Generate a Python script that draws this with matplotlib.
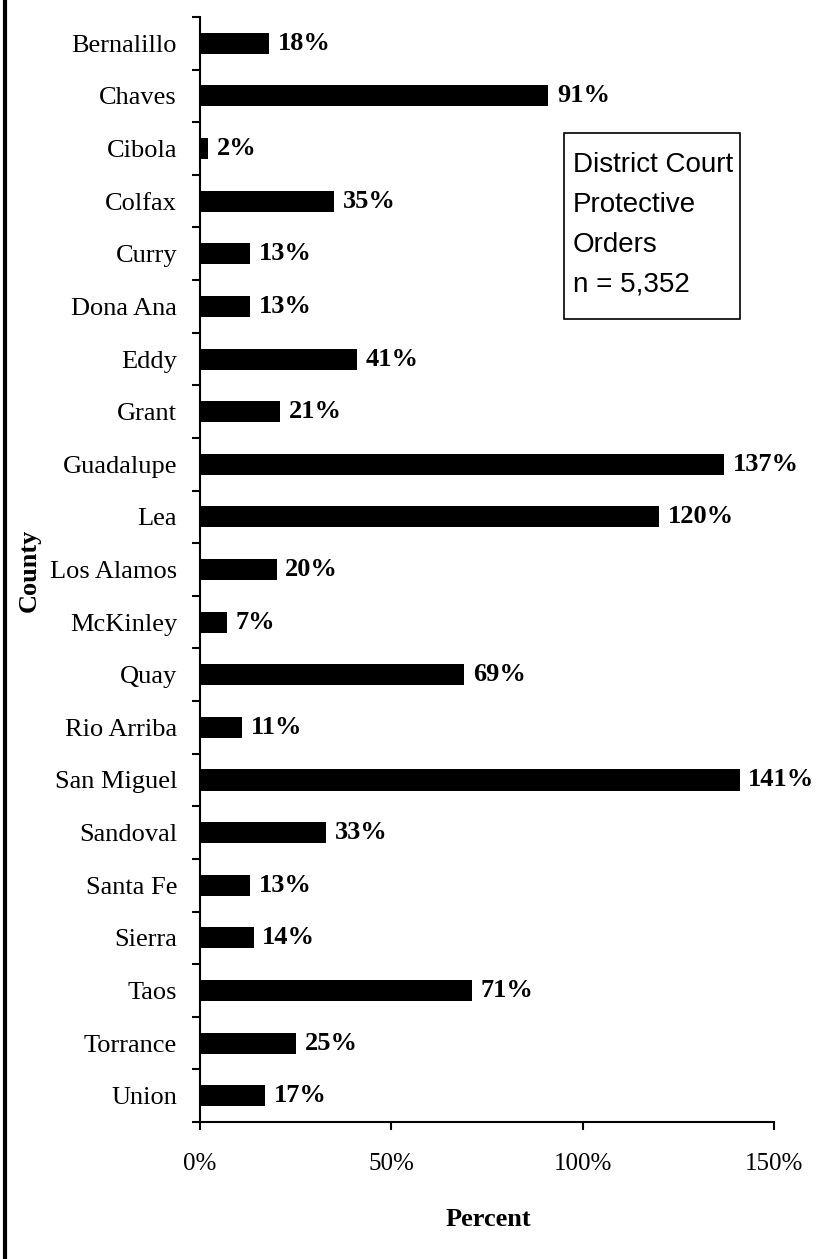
import matplotlib.pyplot as plt
from matplotlib.lines import Line2D
from matplotlib.patches import Rectangle

counties = ["Bernalillo", "Chaves", "Cibola", "Colfax", "Curry", "Dona Ana",
            "Eddy", "Grant", "Guadalupe", "Lea", "Los Alamos", "McKinley",
            "Quay", "Rio Arriba", "San Miguel", "Sandoval", "Santa Fe",
            "Sierra", "Taos", "Torrance", "Union"]
percents = [18, 91, 2, 35, 13, 13, 41, 21, 137, 120, 20, 7, 69, 11, 141,
            33, 13, 14, 71, 25, 17]
x_ticks = [0, 50, 100, 150]
x_tick_labels = ["0%", "50%", "100%", "150%"]
box_lines = ["District Court", "Protective", "Orders", "n = 5,352"]

W, H = 817, 1259
serif = "Liberation Serif"
sans = "Liberation Sans"


def main():
    fig = plt.figure(figsize=(W / 100, H / 100), dpi=100)
    ax = fig.add_axes([200 / W, 1 - 1122 / H, 574 / W, 1105 / H])

    ypos = list(range(len(counties)))
    ax.barh(ypos, percents, height=0.4, color="black")
    for y, v in zip(ypos, percents):
        ax.text(v + 2.3, y, f"{v}%", va="center", ha="left",
                fontsize=19, fontweight="bold", family=serif)

    ax.set_xlim(0, 150)
    ax.set_ylim(len(counties) - 0.5, -0.5)

    ax.set_yticks(ypos, counties, fontsize=19, family=serif)
    ax.set_yticks([i - 0.5 for i in range(len(counties) + 1)], minor=True)
    ax.tick_params(axis="y", which="major", length=0, pad=16.5)
    ax.tick_params(axis="y", which="minor", length=6, width=1.5, direction="out")

    ax.set_xticks(x_ticks, x_tick_labels, fontsize=18, family=serif)
    ax.tick_params(axis="x", length=6, width=1.5, direction="out", pad=16.5)

    for side in ["top", "right"]:
        ax.spines[side].set_visible(False)
    for side in ["left", "bottom"]:
        ax.spines[side].set_linewidth(1.5)

    fig.text(29 / W, 1 - 570 / H, "County", rotation=90, ha="center",
             va="center", fontsize=19, fontweight="bold", family=serif)
    fig.text(488 / W, 1 - 1220 / H, "Percent", ha="center", va="center",
             fontsize=19, fontweight="bold", family=serif)

    # text box
    fig.add_artist(Rectangle((564 / W, 1 - 319 / H), 176 / W, 186 / H,
                             transform=fig.transFigure, fill=False,
                             edgecolor="black", linewidth=1.2))
    for i, line in enumerate(box_lines):
        fig.text(573 / W, 1 - (165 + 40 * i) / H, line, ha="left",
                 va="center", fontsize=20, family=sans)

    # left border line
    fig.add_artist(Line2D([5 / W, 5 / W], [0, 1], transform=fig.transFigure,
                          color="black", linewidth=3))

    fig.savefig("out.png", dpi=100)


if __name__ == "__main__":
    main()
